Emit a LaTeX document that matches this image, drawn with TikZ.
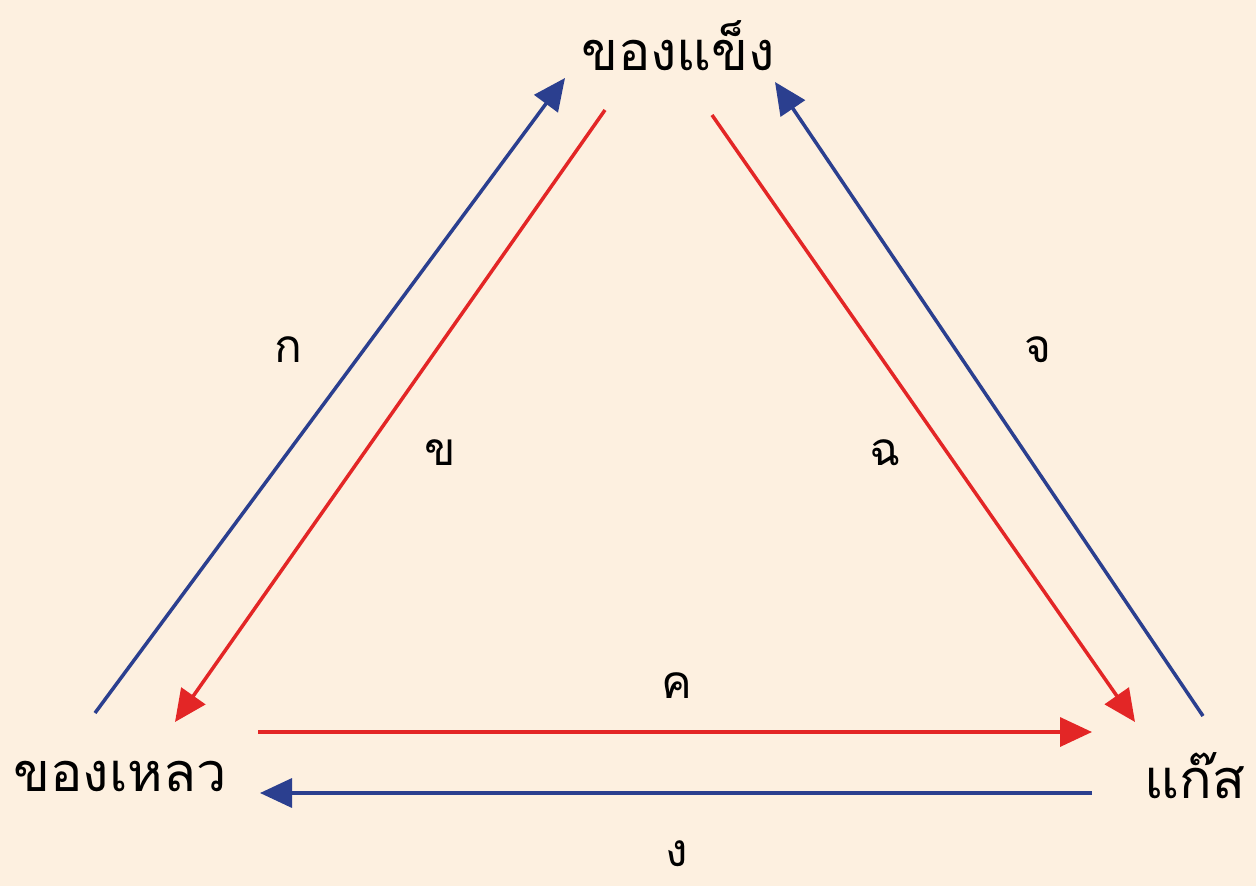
\documentclass[tikz,border=0pt]{standalone}
\usepackage{fontspec}
\usetikzlibrary{arrows.meta}
\newfontfamily\thaifont[Script=Thai]{Loma}
\definecolor{bgcream}{HTML}{FDF0E0}
\definecolor{warmred}{HTML}{E32626}
\definecolor{coolblue}{HTML}{2B3F8F}

\begin{document}
\begin{tikzpicture}[x=1pt,y=-1pt,
  phase/.style={inner sep=0pt,font=\fontsize{54}{62}\thaifont},
  tag/.style={inner sep=0pt,font=\fontsize{46}{54}\thaifont},
  heat/.style={draw=warmred,line width=3.5pt,-{Triangle[length=32pt,width=29pt]}},
  cool/.style={draw=coolblue,line width=3.5pt,-{Triangle[length=32pt,width=29pt]}}]
\path[use as bounding box,fill=bgcream] (0,0) rectangle (1256,886);
% states
\node[phase] (solid) at (678,46) {ของแข็ง};
\node[phase] (liquid) at (120,776) {ของเหลว};
\node[phase] (gas) at (1195,776) {แก๊ส};
% arrow ends
\coordinate (lq1) at (95,713);
\coordinate (sd1) at (565,78);
\coordinate (sd2) at (605,110);
\coordinate (lq2) at (175,722);
\coordinate (sd3) at (712,115);
\coordinate (gs3) at (1135,722);
\coordinate (gs4) at (1203,716);
\coordinate (sd4) at (775,82);
\coordinate (lq5) at (258,732);
\coordinate (gs5) at (1092,732);
\coordinate (gs6) at (1092,793);
\coordinate (lq6) at (260,793);
\draw[cool] (lq1) -- (sd1);
\draw[heat] (sd2) -- (lq2);
\draw[heat] (sd3) -- (gs3);
\draw[cool] (gs4) -- (sd4);
\draw[heat] (lq5) -- (gs5);
\draw[cool] (gs6) -- (lq6);
% labels
\node[tag] (ka) at (288,350) {ก};
\node[tag] (kho) at (440,453) {ข};
\node[tag] (kho2) at (677,686) {ค};
\node[tag,anchor=base,text depth=0pt] (ngo) at (677,866) {ง};
\node[tag] (cho) at (1038,350) {จ};
\node[tag] (chocha) at (885,453) {ฉ};
\end{tikzpicture}
\end{document}
